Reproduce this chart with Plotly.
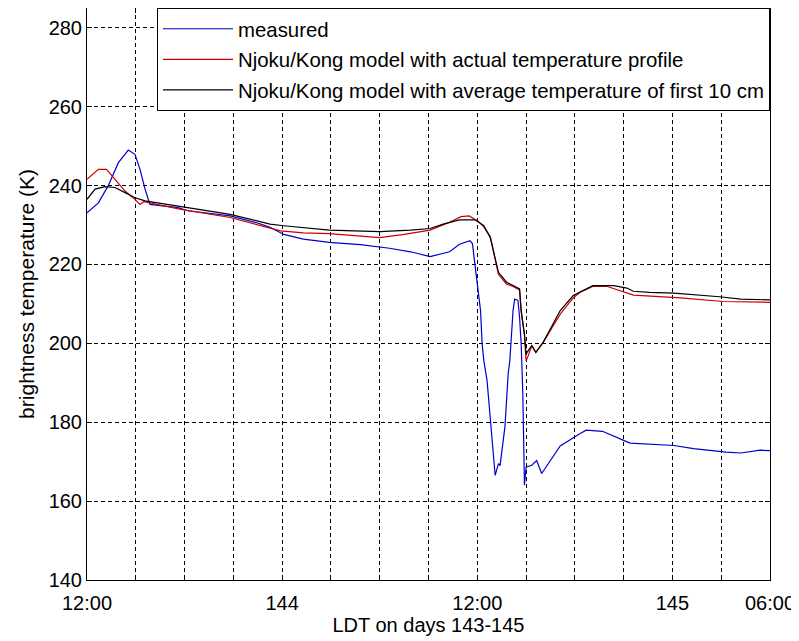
import plotly.graph_objects as go

# hours after 12:00 on day 143, and brightness temperature (K)
meas_h = [0, 0.7, 1.3, 1.93, 2.54, 2.95, 3.26, 3.57, 3.87, 4.4, 5.6, 6.2, 8.8, 10.5, 11.25,
          12.1, 13.3, 14.9, 16.8, 18.6, 19.9, 21.1, 21.7, 22.3, 22.9, 23.55, 23.7, 23.86,
          24.07, 24.2, 24.3, 24.4, 24.6, 24.9, 25.1, 25.3, 25.4, 25.7, 25.9, 26.0, 26.2,
          26.3, 26.5, 26.6, 26.7, 26.8, 26.9, 27.0, 27.35, 27.65, 27.96, 29.1, 29.9, 30.3,
          30.7, 31.7, 33.0, 33.4, 36.1, 37.3, 39.3, 40.2, 41.4, 42.0]
meas_t = [233.1, 235.6, 239.9, 245.8, 249.0, 247.9, 244.1, 239.1, 235.2, 234.9, 234.4, 233.6,
          232.3, 230.5, 229.4, 227.6, 226.4, 225.6, 225.0, 224.1, 223.2, 222.0, 222.6, 223.2,
          225.1, 226.0, 225.3, 220.1, 212.5, 208.3, 199.8, 195.6, 190.6, 176.0, 166.5, 169.5,
          169.0, 178.8, 192.3, 195.6, 208.3, 211.2, 210.9, 206.6, 199.8, 187.2, 164.0, 168.6,
          169.1, 170.3, 167.0, 174.0, 176.2, 177.1, 178.0, 177.7, 175.4, 174.7, 174.1, 173.3,
          172.4, 172.2, 172.9, 172.8]

prof_h = [0, 0.7, 1.2, 1.72, 2.34, 2.95, 3.26, 3.5, 5.7, 8.8, 11.9, 13.3, 14.9, 18.0, 19.5,
          21.1, 22.3, 23.0, 23.5, 24.07, 24.4, 24.8, 25.1, 25.3, 25.8, 26.2, 26.6, 26.7,
          26.9, 27.0, 27.1, 27.35, 27.6, 28.06, 29.1, 29.9, 30.3, 31.1, 32.0, 33.6, 36.5,
          39.1, 42.0]
prof_t = [241.6, 244.1, 244.1, 241.6, 238.6, 236.5, 235.2, 235.9, 234.0, 231.9, 228.5, 228.0,
          227.8, 226.8, 227.6, 228.7, 230.7, 232.1, 232.3, 230.9, 229.5, 227.0, 221.5, 217.5,
          215.0, 214.4, 213.5, 208.0, 202.0, 195.6, 196.5, 199.4, 197.7, 200.3, 207.4, 211.5,
          212.9, 214.4, 214.4, 212.2, 211.5, 210.6, 210.4]

avg_h = [0, 0.5, 1.1, 1.72, 2.34, 2.95, 3.57, 5.0, 6.0, 8.8, 11.25, 12.1, 14.9, 18.0, 19.9,
         21.1, 21.9, 22.9, 23.86, 24.4, 24.8, 25.1, 25.3, 25.8, 26.2, 26.6, 26.7, 26.9,
         27.0, 27.35, 27.6, 28.06, 29.1, 29.9, 31.1, 32.4, 33.2, 33.6, 34.6, 36.1, 38.9,
         40.2, 42.0]
avg_t = [236.5, 239.1, 239.7, 239.5, 238.2, 236.9, 236.1, 235.2, 234.4, 232.7, 230.2, 229.8,
         228.7, 228.3, 228.7, 229.1, 230.2, 231.3, 231.3, 229.8, 226.8, 221.8, 218.0, 215.5,
         214.6, 213.8, 208.3, 202.4, 197.3, 199.4, 197.7, 200.3, 208.3, 212.1, 214.6, 214.6,
         214.0, 213.2, 212.9, 212.7, 211.8, 211.2, 211.0]

names = ["measured",
         "Njoku/Kong model with actual temperature profile",
         "Njoku/Kong model with average temperature of first 10 cm"]
colors = ["#0000CC", "#CC0000", "#000000"]

start_day = 143.5
tick_vals = [143.5 + i * 0.125 for i in range(15)]
tick_labels = {143.5: "12:00", 144.0: "144", 144.5: "12:00", 145.0: "145", 145.25: "06:00"}
tick_text = [tick_labels.get(v, "") for v in tick_vals]
y_ticks = [140, 160, 180, 200, 220, 240, 260, 280]


def to_day(hours):
    return [start_day + h / 24.0 for h in hours]


fig = go.Figure()
for i, (hh, tt) in enumerate([(meas_h, meas_t), (prof_h, prof_t), (avg_h, avg_t)]):
    fig.add_trace(go.Scatter(x=to_day(hh), y=tt, mode="lines", name=names[i],
                             legendgroup=f"g{i}",
                             line=dict(color=colors[i], width=1.2)))

font = "Liberation Sans, Arial, sans-serif"
fig.update_layout(
    width=791, height=633,
    margin=dict(l=79, r=29, t=0, b=61),
    paper_bgcolor="white", plot_bgcolor="white",
    font=dict(family=font, size=20, color="#000000"),
    showlegend=True,
    legend=dict(x=1, y=1, xanchor="right", yanchor="top",
                bgcolor="white", bordercolor="black", borderwidth=1,
                font=dict(size=20.4), tracegroupgap=1,
                itemwidth=70),
)
fig.update_xaxes(
    range=[143.5, 145.25], tickmode="array", tickvals=tick_vals, ticktext=tick_text,
    showgrid=True, gridcolor="black", gridwidth=1, griddash="4px,3px",
    showline=True, linecolor="black", linewidth=1, mirror="ticks",
    ticks="inside", ticklen=5, tickcolor="black", ticklabelstandoff=5,
    zeroline=False,
    title=dict(text="LDT on days 143-145", font=dict(size=20), standoff=2),
)
fig.update_yaxes(
    range=[140, 285], tickmode="array", tickvals=y_ticks,
    showgrid=True, gridcolor="black", gridwidth=1, griddash="4px,3px",
    showline=True, linecolor="black", linewidth=1, mirror="ticks",
    ticks="inside", ticklen=5, tickcolor="black",
    zeroline=False,
    title=dict(text="brightness temperature (K)", font=dict(size=21), standoff=8),
)

fig.write_html("out.html")
